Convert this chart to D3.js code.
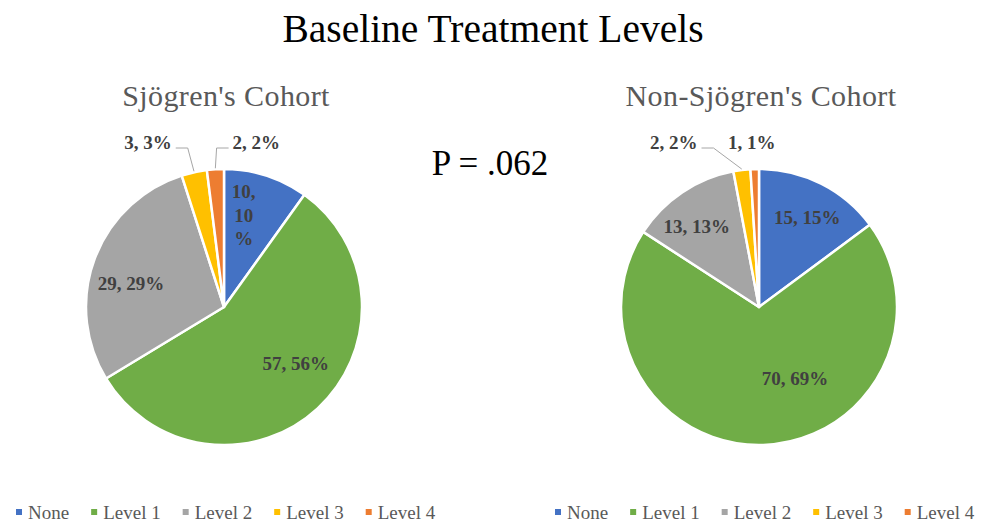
<!DOCTYPE html>
<html lang="en">
<head>
<meta charset="UTF-8">
<title>Baseline Treatment Levels</title>
<script src="https://d3js.org/d3.v7.min.js"></script>
<style>
  body { margin: 0; background: #fff; }
  svg text { font-family: "Liberation Serif", "Times New Roman", serif; }
</style>
</head>
<body>
<div id="chart"></div>
<script>
// data
const categories = ["None", "Level 1", "Level 2", "Level 3", "Level 4"];
const sjogrenCounts = [10, 57, 29, 3, 2];
const nonSjogrenCounts = [15, 70, 13, 2, 1];
const colors = ["#4472C4", "#70AD47", "#A5A5A5", "#FFC000", "#ED7D31"];
const chartTitle = "Baseline Treatment Levels";
const pLabel = "P = .062";

const width = 988, height = 522, radius = 138;

// layout for each pie: label placement is "in" (centroid + nudge) or "out" (above pie, with leader)
const pies = [
  {
    title: "Sjögren's Cohort", counts: sjogrenCounts, cx: 224, cy: 307, legendX: 16,
    labels: [
      {mode: "in", nudge: [-9, -2], wrap: true},
      {mode: "in", nudge: [8, -12]},
      {mode: "in", nudge: [-5, 10]},
      {mode: "out", dx: -46, leader: true},
      {mode: "out", dx: 41, leader: true}
    ]
  },
  {
    title: "Non-Sjögren's Cohort", counts: nonSjogrenCounts, cx: 759, cy: 307, legendX: 555,
    labels: [
      {mode: "in", nudge: [6, -5]},
      {mode: "in", nudge: [33, -22]},
      {mode: "in", nudge: [-10, -2]},
      {mode: "out", dx: -68, leader: true},
      {mode: "out", dx: -3, leader: false}
    ]
  }
];

const svg = d3.select("#chart").append("svg")
  .attr("width", width).attr("height", height);

svg.append("text")
  .attr("x", 493).attr("y", 42)
  .attr("text-anchor", "middle")
  .style("font-size", "39.5px").style("fill", "#000")
  .text(chartTitle);

svg.append("text")
  .attr("x", 490).attr("y", 175)
  .attr("text-anchor", "middle")
  .style("font-size", "35px").style("fill", "#000")
  .text(pLabel);

const color = d3.scaleOrdinal().domain(categories).range(colors);
const pie = d3.pie().sort(null).value(d => d.value);
const arc = d3.arc().innerRadius(0).outerRadius(radius);
const labelArc = d3.arc().innerRadius(radius * 0.68).outerRadius(radius * 0.68);
const edgeArc = d3.arc().innerRadius(radius + 1).outerRadius(radius + 1);

pies.forEach(p => {
  const rows = categories.map((c, i) => ({cat: c, value: p.counts[i]}));
  const total = d3.sum(rows, d => d.value);
  const arcs = pie(rows);

  svg.append("text")
    .attr("x", p.cx + 2).attr("y", 106)
    .attr("text-anchor", "middle")
    .style("font-size", "30px").style("letter-spacing", "0.4px")
    .style("fill", "#595959")
    .text(p.title);

  const g = svg.append("g").attr("transform", `translate(${p.cx},${p.cy})`);

  g.selectAll("path.slice")
    .data(arcs)
    .join("path")
    .attr("class", "slice")
    .attr("d", arc)
    .attr("fill", d => color(d.data.cat))
    .attr("stroke", "#fff")
    .attr("stroke-width", 2.5)
    .attr("stroke-linejoin", "round");

  arcs.forEach((a, i) => {
    const cfg = p.labels[i];
    const pct = Math.round(a.data.value / total * 100);
    const txt = `${a.data.value}, ${pct}%`;
    const lab = g.append("text")
      .attr("text-anchor", "middle")
      .style("font-size", "19px").style("font-weight", "bold")
      .style("fill", "#404040");

    if (cfg.mode === "in") {
      const [x, y] = labelArc.centroid(a);
      const lx = x + cfg.nudge[0], ly = y + cfg.nudge[1];
      if (cfg.wrap) {
        const parts = [`${a.data.value},`, `${pct}`, "%"];
        parts.forEach((t, k) => {
          lab.append("tspan").attr("x", lx).attr("y", ly + 6 + (k - 1) * 23.5).text(t);
        });
      } else {
        lab.attr("x", lx).attr("y", ly + 6).text(txt);
      }
    } else {
      const [ex, ey] = edgeArc.centroid(a);
      const lx = ex + cfg.dx, ly = 149 - p.cy;
      lab.attr("x", lx).attr("y", ly).text(txt);
      if (cfg.leader) {
        const w = lab.node().getComputedTextLength();
        const side = cfg.dx < 0 ? 1 : -1;
        const start = lx + side * (w / 2 + 4);
        const elbow = start + side * 12;
        g.append("polyline")
          .attr("points", [[start, ly - 1], [elbow, ly - 1], [ex, ey]].map(q => q.join(",")).join(" "))
          .attr("fill", "none")
          .attr("stroke", "#A6A6A6")
          .attr("stroke-width", 1);
      }
    }
  });

  // legend, flowed left to right
  const leg = svg.append("g").attr("transform", `translate(${p.legendX},0)`);
  let x = 0;
  categories.forEach(c => {
    leg.append("rect")
      .attr("x", x).attr("y", 509)
      .attr("width", 6).attr("height", 6)
      .attr("fill", color(c));
    const t = leg.append("text")
      .attr("x", x + 12).attr("y", 519)
      .style("font-size", "19px").style("fill", "#595959")
      .text(c);
    x += 12 + t.node().getComputedTextLength() + 22;
  });
});
</script>
</body>
</html>
